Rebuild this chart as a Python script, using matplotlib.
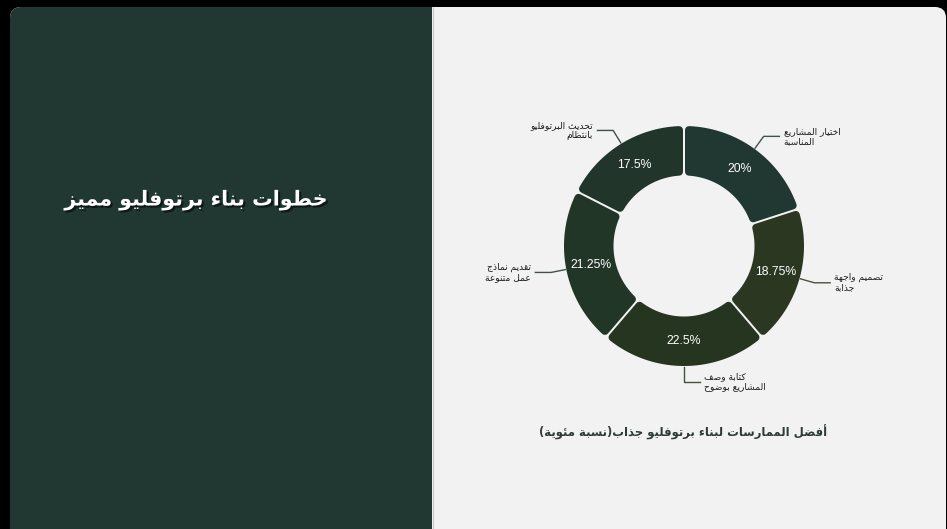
import numpy as np
import matplotlib
matplotlib.use("Agg")
import matplotlib.pyplot as plt
import matplotlib.patheffects as pe
from matplotlib.patches import FancyBboxPatch, Polygon, Rectangle

TITLE = "خطوات بناء برتوفليو مميز"
CAPTION = "أفضل الممارسات لبناء برتوفليو جذاب(نسبة مئوية)"
categories = [
    "اختيار المشاريع المناسبة",
    "تصميم واجهة جذابة",
    "كتابة وصف المشاريع بوضوح",
    "تقديم نماذج عمل متنوعة",
    "تحديث البرتوفليو بانتظام",
]
values = [20, 18.75, 22.5, 21.25, 17.5]
colors = ["#203732", "#2c3721", "#25351f", "#213627", "#21352b"]

W, H, DPI = 947, 529, 100

# arabic presentation forms: (base codepoint, number of forms)
FORMS = {
    'ء': (0xFE80, 1), 'آ': (0xFE81, 2), 'أ': (0xFE83, 2), 'ؤ': (0xFE85, 2),
    'إ': (0xFE87, 2), 'ئ': (0xFE89, 4), 'ا': (0xFE8D, 2), 'ب': (0xFE8F, 4),
    'ة': (0xFE93, 2), 'ت': (0xFE95, 4), 'ث': (0xFE99, 4), 'ج': (0xFE9D, 4),
    'ح': (0xFEA1, 4), 'خ': (0xFEA5, 4), 'د': (0xFEA9, 2), 'ذ': (0xFEAB, 2),
    'ر': (0xFEAD, 2), 'ز': (0xFEAF, 2), 'س': (0xFEB1, 4), 'ش': (0xFEB5, 4),
    'ص': (0xFEB9, 4), 'ض': (0xFEBD, 4), 'ط': (0xFEC1, 4), 'ظ': (0xFEC5, 4),
    'ع': (0xFEC9, 4), 'غ': (0xFECD, 4), 'ف': (0xFED1, 4), 'ق': (0xFED5, 4),
    'ك': (0xFED9, 4), 'ل': (0xFEDD, 4), 'م': (0xFEE1, 4), 'ن': (0xFEE5, 4),
    'ه': (0xFEE9, 4), 'و': (0xFEED, 2), 'ى': (0xFEEF, 2), 'ي': (0xFEF1, 4),
}
LAMALEF = {'آ': 0xFEF5, 'أ': 0xFEF7, 'إ': 0xFEF9, 'ا': 0xFEFB}
MIRROR = {'(': ')', ')': '('}


def shapeLine(line):
    out = []
    i, n = 0, len(line)
    while i < n:
        c = line[i]
        if c not in FORMS:
            out.append(c)
            i += 1
            continue
        prev = i > 0 and line[i-1] in FORMS and FORMS[line[i-1]][1] == 4
        if c == 'ل' and i + 1 < n and line[i+1] in LAMALEF:
            out.append(chr(LAMALEF[line[i+1]] + (1 if prev else 0)))
            i += 2
            continue
        base, count = FORMS[c]
        nxt = count == 4 and i + 1 < n and line[i+1] in FORMS and FORMS[line[i+1]][1] > 1
        if count == 1:
            form = 0
        elif count == 2:
            form = 1 if prev else 0
        else:
            form = {(False, False): 0, (True, False): 1, (False, True): 2, (True, True): 3}[(prev, nxt)]
        out.append(chr(base + form))
        i += 1
    return ''.join(MIRROR.get(c, c) for c in reversed(out))


def shape(text):
    return '\n'.join(shapeLine(l) for l in text.split('\n'))


def wrapTwo(text):
    words = text.split()
    best = min(range(1, len(words)),
               key=lambda k: (abs(len(' '.join(words[:k])) - len(' '.join(words[k:]))), -k))
    return ' '.join(words[:best]) + '\n' + ' '.join(words[best:])


def roundedWedge(a1, a2, r_in, r_out, off):
    # compass angles (clockwise from top), shrunk by an offset so the stroke rounds the corners
    def pt(r, a):
        t = np.deg2rad(90 - a)
        return r * np.cos(t), r * np.sin(t)
    ro, ri = r_out - off, r_in + off
    do = np.rad2deg(np.arcsin(off / ro))
    di = np.rad2deg(np.arcsin(off / ri))
    outer = [pt(ro, a) for a in np.linspace(a1 + do, a2 - do, 60)]
    inner = [pt(ri, a) for a in np.linspace(a2 - di, a1 + di, 40)]
    return outer + inner


def main():
    plt.rcParams['font.family'] = ['DejaVu Sans']
    fig = plt.figure(figsize=(W / DPI, H / DPI), dpi=DPI, facecolor='black')

    bg = fig.add_axes([0, 0, 1, 1])
    bg.set_xlim(0, W)
    bg.set_ylim(H, 0)
    bg.axis('off')

    card = FancyBboxPatch((10, 7), 936, 560, boxstyle="round,pad=0,rounding_size=11",
                          facecolor='#f2f2f2', edgecolor='none')
    bg.add_patch(card)
    side = FancyBboxPatch((10, 7), 440, 560, boxstyle="round,pad=0,rounding_size=11",
                          facecolor='#213731', edgecolor='none')
    bg.add_patch(side)
    side.set_clip_path(Rectangle((0, 0), 432, H, transform=bg.transData))
    bg.plot([432.5, 432.5], [7, H], color='#c5ccc9', lw=0.8)

    bg.text(196, 200, shape(TITLE), color='white', fontsize=14.8, fontweight='bold',
            ha='center', va='center',
            path_effects=[pe.withSimplePatchShadow(offset=(1.5, -1.5), shadow_rgbFace='black', alpha=0.55)])
    bg.text(683, 432, shape(CAPTION), color='#2d3b35', fontsize=8.4, fontweight='bold',
            ha='center', va='center')

    # donut
    cx, cy, R = 684, 246, 121
    half = 200
    ax = fig.add_axes([(cx - half) / W, (H - cy - half) / H, 2 * half / W, 2 * half / H])
    ax.set_xlim(-half / R, half / R)
    ax.set_ylim(-half / R, half / R)
    ax.set_aspect('equal')
    ax.axis('off')

    r_in = 69.5 / R
    corner_px, gap_px = 4.0, 2.0
    off = (corner_px + gap_px / 2) / R
    lw = 2 * corner_px * 72 / DPI

    total = sum(values)
    start = 0.0
    for name, v, col in zip(categories, values, colors):
        span = 360 * v / total
        a1, a2 = start, start + span
        poly = Polygon(roundedWedge(a1, a2, r_in, 1.0, off), closed=True,
                       facecolor=col, edgecolor=col, lw=lw, joinstyle='round')
        ax.add_patch(poly)

        mid = np.deg2rad(90 - (a1 + a2) / 2)
        ux, uy = np.cos(mid), np.sin(mid)
        rm = (1 + r_in) / 2
        ax.text(rm * ux, rm * uy, f"{v:g}%", color='white', fontsize=8.8,
                family='Liberation Sans', ha='center', va='center')

        side_sign = 1 if ux >= -1e-9 else -1
        p0 = (1.0 * ux, 1.0 * uy)
        p1 = (1.12 * ux, 1.12 * uy)
        p2 = (p1[0] + side_sign * 0.13, p1[1])
        ax.plot([p0[0], p1[0], p2[0]], [p0[1], p1[1], p2[1]], color=col, lw=1.0,
                alpha=0.85, clip_on=False)
        ax.text(p2[0] + side_sign * 0.035, p2[1], shape(wrapTwo(name)), color='#1e1e1e',
                fontsize=6.6, ha='left' if side_sign > 0 else 'right', va='center',
                multialignment='left' if side_sign > 0 else 'right', linespacing=1.2)
        start = a2

    fig.savefig('out.png', dpi=DPI, facecolor='black')


if __name__ == "__main__":
    main()
